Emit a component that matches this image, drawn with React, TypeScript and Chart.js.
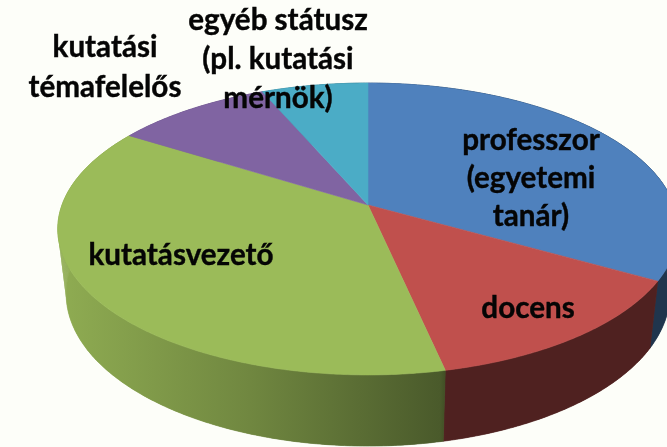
import React, { useEffect, useRef } from "react";
import { Chart, registerables } from "chart.js";

Chart.register(...registerables);

const categories = ["professzor (egyetemi tanár)", "docens", "kutatásvezető", "kutatási témafelelős", "egyéb státusz (pl. kutatási mérnök)"];
const shares = [33.2, 13.4, 37.3, 9.6, 6.5];
const colors = ["#4F81BD", "#C0504D", "#9BBB59", "#8064A2", "#4BACC6"];
const labelLines = [["professzor", "(egyetemi", "tanár)"], ["docens"], ["kutatásvezető"], ["kutatási", "témafelelős"], ["egyéb státusz", "(pl. kutatási", "mérnök)"]];

const BG = "#FDFEF9";
const APEX_X = 368, APEX_Y = 205, B = 306, A = 142, D = -0.1644;
const labelAnchors = [[531, 140, 38], [528, 308, 38], [181, 255, 38], [105, 47, 40], [278, 20, 39]];

function project(a: number) {
  const u = Math.cos(a), v = Math.sin(a), w = 1 + D * v;
  return [APEX_X + (B * u) / w, APEX_Y + (A * v) / w];
}
function lower(p: number[]) {
  return [APEX_X + (p[0] - APEX_X) * 0.973, p[1] * 1.043 + 55];
}
function mix(hex: string, f: number) {
  const n = parseInt(hex.slice(1), 16);
  return `rgb(${Math.round(((n >> 16) & 255) * f)},${Math.round(((n >> 8) & 255) * f)},${Math.round((n & 255) * f)})`;
}
function samples(s: number, e: number) {
  const n = Math.max(2, Math.ceil((e - s) / 0.01));
  return Array.from({ length: n + 1 }, (_, i) => s + ((e - s) * i) / n);
}

const pie3d = {
  id: "pie3d",
  beforeDatasetDraw(chart: any) {
    const ctx = chart.ctx as CanvasRenderingContext2D;
    const arcs = chart.getDatasetMeta(0).data;
    ctx.save();
    arcs.forEach((arc: any, i: number) => {
      const top = samples(arc.startAngle, arc.endAngle).map(project);
      const bot = top.map(lower);
      const g = ctx.createLinearGradient(0, 0, 667, 0);
      const stops: [number, number][] = [[60, 0.92], [250, 0.72], [440, 0.48], [446, 0.41], [667, 0.41]];
      stops.forEach(([x, f]) => g.addColorStop(x / 667, mix(colors[i], f)));
      ctx.fillStyle = g;
      ctx.strokeStyle = g;
      ctx.lineWidth = 0.6;
      // whole wall in one path, so no seams show inside it
      ctx.beginPath();
      [...top, ...[...bot].reverse()].forEach((p, k) => (k ? ctx.lineTo(p[0], p[1]) : ctx.moveTo(p[0], p[1])));
      ctx.closePath();
      ctx.fill();
      ctx.stroke();
      // small pieces fill the silhouette where the two rims cross
      for (let k = 0; k + 1 < top.length; k++) {
        ctx.beginPath();
        ctx.moveTo(top[k][0], top[k][1]);
        ctx.lineTo(top[k + 1][0], top[k + 1][1]);
        ctx.lineTo(bot[k + 1][0], bot[k + 1][1]);
        ctx.lineTo(bot[k][0], bot[k][1]);
        ctx.closePath();
        ctx.fill();
      }
    });
    ctx.lineWidth = 0.6;
    arcs.forEach((arc: any, i: number) => {
      ctx.beginPath();
      ctx.moveTo(APEX_X, APEX_Y);
      samples(arc.startAngle, arc.endAngle).map(project).forEach((p) => ctx.lineTo(p[0], p[1]));
      ctx.closePath();
      ctx.fillStyle = colors[i];
      ctx.strokeStyle = colors[i];
      ctx.fill();
      ctx.stroke();
    });
    ctx.restore();
    return false;
  },
  afterDatasetsDraw(chart: any) {
    const ctx = chart.ctx as CanvasRenderingContext2D;
    ctx.save();
    ctx.fillStyle = "#050505";
    ctx.strokeStyle = "#050505";
    ctx.lineWidth = 0.4;
    ctx.font = "bold 29.6px Lato";
    ctx.textAlign = "center";
    ctx.textBaseline = "middle";
    labelLines.forEach((lines, i) => {
      const [x, y, lh] = labelAnchors[i];
      lines.forEach((t, k) => {
        ctx.fillText(t, x, y + k * lh);
        ctx.strokeText(t, x, y + k * lh);
      });
    });
    ctx.restore();
  },
};

export default function App() {
  const ref = useRef<HTMLCanvasElement>(null);
  useEffect(() => {
    const chart = new Chart(ref.current!, {
      type: "pie",
      data: { labels: categories, datasets: [{ data: shares, backgroundColor: colors, borderWidth: 0 }] },
      options: {
        responsive: false,
        animation: false,
        plugins: { legend: { display: false }, tooltip: { enabled: false } },
      },
      plugins: [pie3d],
    } as any);
    return () => chart.destroy();
  }, []);
  return (
    <canvas
      ref={ref}
      width={667}
      height={447}
      style={{ position: "fixed", left: 0, top: 0, width: 667, height: 447, background: BG }}
    />
  );
}
